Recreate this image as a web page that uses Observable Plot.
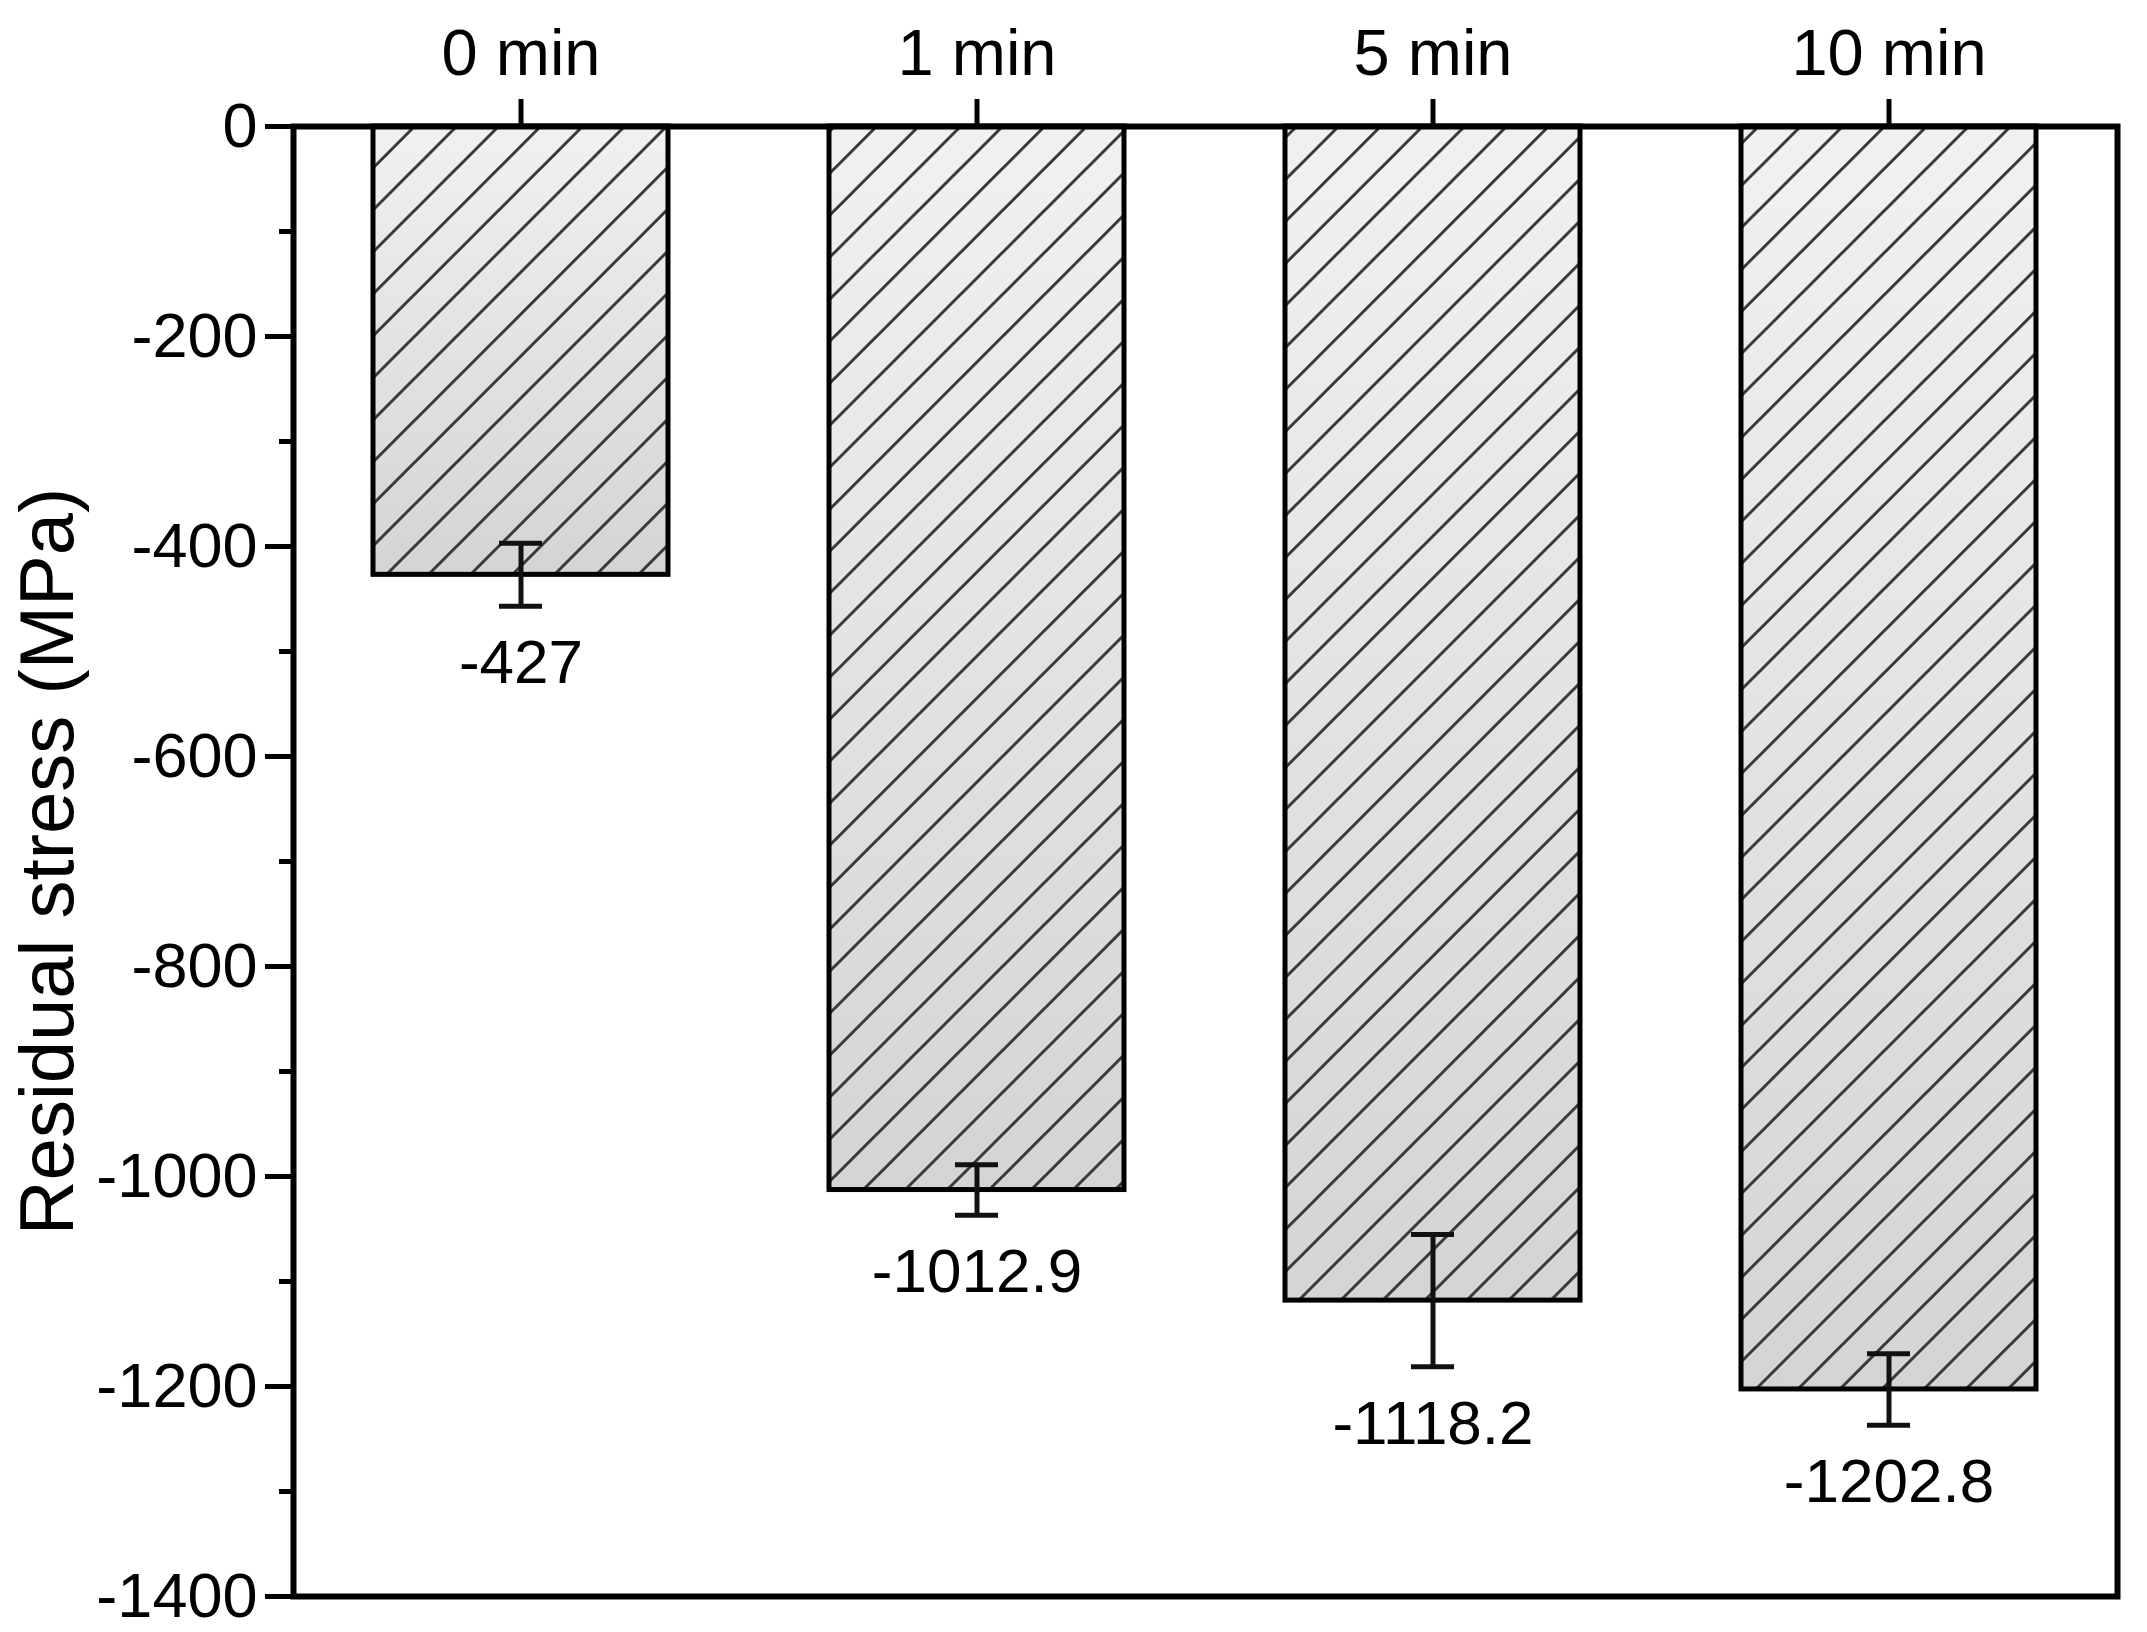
<!DOCTYPE html>
<html>
<head>
<meta charset="utf-8">
<script src="https://cdn.jsdelivr.net/npm/d3@7"></script>
<script src="https://cdn.jsdelivr.net/npm/@observablehq/plot@0.6"></script>
<style>
  html, body { margin: 0; padding: 0; background: #ffffff; overflow: hidden; }
  #chart svg { display: block; }
</style>
</head>
<body>
<div id="chart"></div>
<script>
// ---- data ----
const categories = ["0 min", "1 min", "5 min", "10 min"];
const stress = [-427, -1012.9, -1118.2, -1202.8];
const errors = [30, 24, 63, 34];
const valueLabels = ["-427", "-1012.9", "-1118.2", "-1202.8"];
const yTicks = [-1400, -1200, -1000, -800, -600, -400, -200, 0];
const yMinorTicks = [-1300, -1100, -900, -700, -500, -300, -100];
const yTitle = "Residual stress (MPa)";

const data = categories.map((c, i) => ({cat: c, value: stress[i], err: errors[i], label: valueLabels[i]}));

function defsMark() {
  const ns = "http://www.w3.org/2000/svg";
  const g = document.createElementNS(ns, "g");
  g.innerHTML = `
    <defs>
      <linearGradient id="barGrad" x1="0" y1="0" x2="0" y2="1">
        <stop offset="0" stop-color="#f1f1f1"/>
        <stop offset="1" stop-color="#d4d4d4"/>
      </linearGradient>
      <pattern id="hatch" patternUnits="userSpaceOnUse" width="42" height="42" patternTransform="translate(-5,0)">
        <path d="M-10.5,10.5 L10.5,-10.5 M0,42 L42,0 M31.5,52.5 L52.5,31.5" stroke="#3a3a3a" stroke-width="3" fill="none"/>
      </pattern>
    </defs>`;
  return g;
}

const chart = Plot.plot({
  width: 2147,
  height: 1632,
  marginLeft: 293,
  marginRight: 30,
  marginTop: 126,
  marginBottom: 36,
  style: {fontFamily: "'Liberation Sans', Arial, sans-serif", fontSize: "63px", background: "#ffffff", color: "#000000"},
  x: {domain: categories, paddingInner: 0.353, paddingOuter: 0.1765, label: null},
  y: {domain: [-1400, 0], label: null},
  marks: [
    defsMark,
    Plot.barY(data, {x: "cat", y1: 0, y2: "value", fill: "url(#barGrad)"}),
    Plot.barY(data, {x: "cat", y1: 0, y2: "value", fill: "url(#hatch)", stroke: "#000000", strokeWidth: 5}),
    Plot.ruleX(data, {x: "cat", y1: d => d.value - d.err, y2: d => d.value + d.err, stroke: "#111111", strokeWidth: 5}),
    Plot.tickY(data, {x: "cat", y: d => d.value - d.err, stroke: "#111111", strokeWidth: 5, insetLeft: 126, insetRight: 126}),
    Plot.tickY(data, {x: "cat", y: d => d.value + d.err, stroke: "#111111", strokeWidth: 5, insetLeft: 126, insetRight: 126}),
    Plot.text(data, {x: "cat", y: d => d.value - d.err, text: "label", dy: 57, lineAnchor: "middle", fontSize: 62, fill: "#000000"}),
    Plot.frame({stroke: "#000000", strokeWidth: 6}),
    Plot.axisY({ticks: yTicks, tickSize: 28, tickPadding: 8, strokeWidth: 5, tickFormat: d => String(d), fontSize: 63, label: null}),
    Plot.axisY({ticks: yMinorTicks, tickSize: 14, strokeWidth: 5, tickFormat: () => "", label: null}),
    Plot.axisX({anchor: "top", tickSize: 28, tickPadding: 24, strokeWidth: 5, fontSize: 65, label: null}),
    Plot.text([yTitle], {text: d => d, frameAnchor: "left", textAnchor: "middle", lineAnchor: "middle", rotate: -90, dx: -245, fontSize: 76, fill: "#000000"})
  ]
});
document.getElementById("chart").appendChild(chart);
</script>
</body>
</html>
